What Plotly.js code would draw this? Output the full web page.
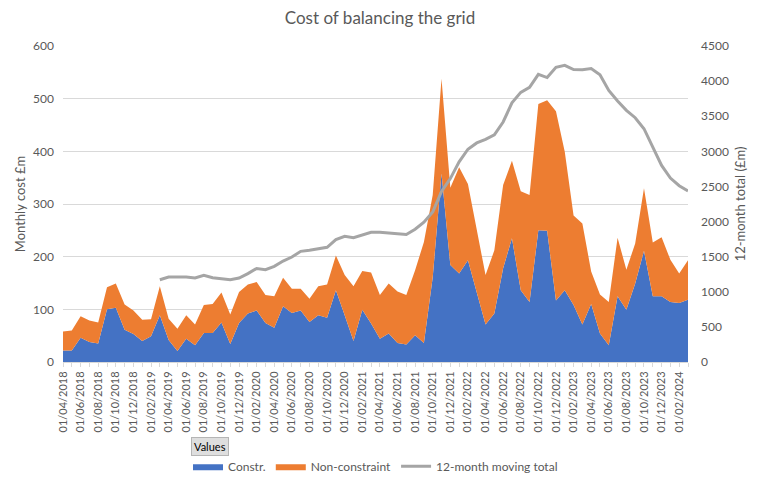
<!DOCTYPE html>
<html>
<head>
<meta charset="utf-8">
<script src="https://cdn.plot.ly/plotly-3.0.1.min.js"></script>
<style>html,body{margin:0;padding:0;background:#fff;}#chart{width:760px;height:477px;}</style>
</head>
<body>
<div id="chart"></div>
<script>
const months = [
 "01/04/2018","01/05/2018","01/06/2018","01/07/2018","01/08/2018","01/09/2018","01/10/2018","01/11/2018","01/12/2018",
 "01/01/2019","01/02/2019","01/03/2019","01/04/2019","01/05/2019","01/06/2019","01/07/2019","01/08/2019","01/09/2019","01/10/2019","01/11/2019","01/12/2019",
 "01/01/2020","01/02/2020","01/03/2020","01/04/2020","01/05/2020","01/06/2020","01/07/2020","01/08/2020","01/09/2020","01/10/2020","01/11/2020","01/12/2020",
 "01/01/2021","01/02/2021","01/03/2021","01/04/2021","01/05/2021","01/06/2021","01/07/2021","01/08/2021","01/09/2021","01/10/2021","01/11/2021","01/12/2021",
 "01/01/2022","01/02/2022","01/03/2022","01/04/2022","01/05/2022","01/06/2022","01/07/2022","01/08/2022","01/09/2022","01/10/2022","01/11/2022","01/12/2022",
 "01/01/2023","01/02/2023","01/03/2023","01/04/2023","01/05/2023","01/06/2023","01/07/2023","01/08/2023","01/09/2023","01/10/2023","01/11/2023","01/12/2023",
 "01/01/2024","01/02/2024","01/03/2024"
];
const constr = [22,22,46,38,35,100,103,61,53,40,49,89,42,21,44,32,55,55,75,34,74,92,98,74,65,106,93,98,76,89,84,136,89,40,99,73,44,54,36,33,51,36,161,358,184,168,193,130,71,92,178,235,136,114,250,249,117,136,108,71,110,54,32,125,99,149,211,125,125,114,112,118];
const nonConstraint = [36,38,41,41,40,42,46,48,45,40,32,55,40,42,45,39,53,55,57,56,59,55,54,53,60,54,46,41,44,55,63,66,76,104,74,97,83,95,98,94,123,192,156,180,147,202,145,125,94,120,158,147,188,203,240,248,359,263,170,192,62,74,82,111,76,76,119,102,112,80,56,75];
const movingTotalMonths = months.slice(11);
const movingTotal = [1172,1210,1210,1210,1196,1234,1200,1186,1172,1196,1258,1332,1315,1362,1438,1495,1576,1590,1614,1633,1742,1789,1770,1803,1846,1846,1832,1827,1815,1890,1990,2136,2430,2612,2850,3030,3120,3170,3235,3418,3690,3840,3910,4097,4050,4196,4225,4165,4163,4178,4091,3868,3716,3583,3479,3322,3061,2800,2620,2511,2435];
const tickText = months.map((m, i) => i % 2 === 0 ? m : "");

const FONT = "Lato, 'Open Sans', sans-serif";
const TXT = "#595959";

const traces = [
  {x: months, y: constr, name: "Constr.", type: "scatter", mode: "lines", stackgroup: "one",
   line: {width: 0, color: "#4472C4"}, fillcolor: "#4472C4"},
  {x: months, y: nonConstraint, name: "Non-constraint", type: "scatter", mode: "lines", stackgroup: "one",
   line: {width: 0, color: "#ED7D31"}, fillcolor: "#ED7D31"},
  {x: movingTotalMonths, y: movingTotal, name: "12-month moving total", type: "scatter", mode: "lines",
   yaxis: "y2", line: {width: 3, color: "#A5A5A5"}}
];

const layout = {
  width: 760, height: 477,
  margin: {l: 63, r: 72, t: 46, b: 115, autoexpand: false},
  paper_bgcolor: "#fff", plot_bgcolor: "#fff",
  font: {family: FONT, color: TXT, size: 11},
  title: {text: "Cost of balancing the grid", x: 0.5, xanchor: "center", y: 0.962, yanchor: "middle",
          font: {family: FONT, size: 17, color: TXT}},
  showlegend: true,
  legend: {orientation: "h", x: 0.5, xanchor: "center", y: -0.33, yanchor: "middle",
           font: {family: FONT, size: 12, color: TXT}, traceorder: "normal"},
  xaxis: {type: "category", range: [0, 71], tickmode: "array", tickvals: months, ticktext: tickText,
          tickangle: -90, ticks: "outside", ticklen: 4, tickcolor: "#d9d9d9", automargin: false,
          showline: true, linecolor: "#d9d9d9", showgrid: false, zeroline: false,
          tickfont: {family: FONT, size: 11, color: TXT}, fixedrange: true},
  yaxis: {range: [0, 600], dtick: 100, tick0: 0, showgrid: true, gridcolor: "#d9d9d9", gridwidth: 1,
          zeroline: false, showline: false, ticks: "", ticklabelstandoff: 8, automargin: false,
          tickfont: {family: FONT, size: 12, color: TXT},
          title: {text: "Monthly cost £m", font: {family: FONT, size: 13, color: TXT}, standoff: 4}},
  yaxis2: {overlaying: "y", side: "right", range: [0, 4500], dtick: 500, tick0: 0, automargin: false,
           showgrid: false, zeroline: false, showline: false, ticks: "", ticklabelstandoff: 12,
           tickfont: {family: FONT, size: 12, color: TXT},
           title: {text: "12-month total (£m)", font: {family: FONT, size: 13, color: TXT}, standoff: 8}},
  annotations: [
    {text: "Values", xref: "paper", yref: "paper", x: 0.235, y: -0.266, xanchor: "center", yanchor: "middle",
     showarrow: false, font: {family: FONT, size: 11, color: "#000"}, bgcolor: "#dedede",
     bordercolor: "#b5b5b5", borderwidth: 1, borderpad: 2}
  ]
};

Plotly.newPlot("chart", traces, layout, {staticPlot: true, displayModeBar: false});
</script>
</body>
</html>
